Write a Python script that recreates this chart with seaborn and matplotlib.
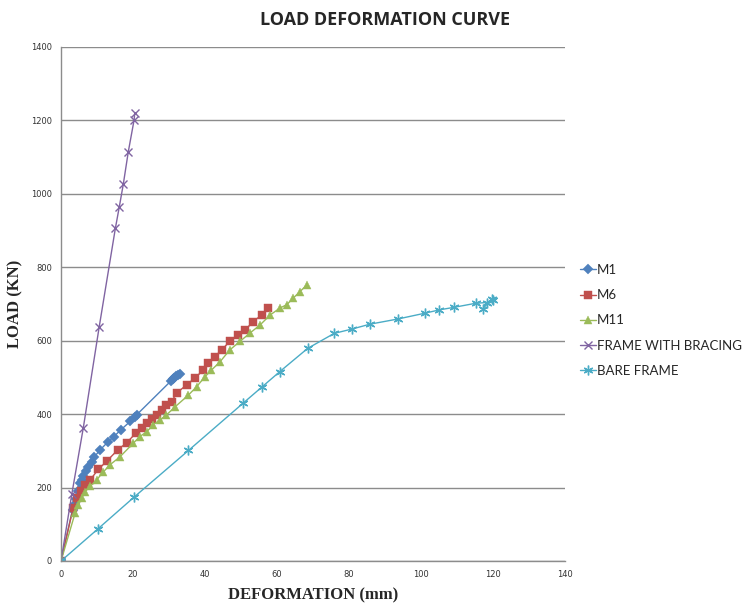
import numpy as np
import pandas as pd
import matplotlib
matplotlib.use("Agg")
import matplotlib.pyplot as plt
import seaborn as sns

# values (deformation mm, load kN)
m1_x = [0, 3.2, 3.8, 4.2, 4.7, 5.3, 5.7, 6.2, 6.9, 7.6, 8.5, 9.3, 10.8, 13.1, 14.7, 16.6, 19.2, 20.6, 21.0,
        30.5, 31.0, 31.5, 32.0, 32.5, 33.0]
m1_y = [0, 140, 155, 168, 190, 212, 221, 232, 246, 257, 271, 284, 302, 325, 339, 357, 380, 393, 398,
        490, 495, 499, 503, 507, 510]

m6_x = [0, 3.4, 4.4, 5.5, 6.7, 8.1, 10.4, 12.7, 15.7, 18.2, 20.8, 22.4, 24.0, 25.2, 26.6, 28.0, 29.3, 30.7,
        32.1, 34.9, 37.2, 39.5, 40.9, 42.8, 44.6, 46.9, 49.3, 51.1, 53.4, 55.7, 57.6]
m6_y = [0, 145, 171, 192, 207, 221, 250, 272, 302, 322, 348, 361, 375, 386, 398, 411, 425, 434,
        457, 480, 498, 520, 539, 557, 575, 598, 616, 629, 652, 670, 689]

m11_x = [0, 3.9, 4.8, 5.7, 6.7, 8.1, 9.9, 11.8, 13.6, 16.4, 20.1, 21.9, 23.8, 25.6, 27.5, 29.3, 31.7,
         35.4, 37.7, 40.0, 41.8, 44.2, 46.9, 49.7, 52.5, 55.3, 58.1, 60.8, 62.7, 64.5, 66.4, 68.3]
m11_y = [0, 130, 153, 171, 189, 203, 221, 243, 262, 284, 321, 339, 352, 371, 384, 398, 420,
         452, 475, 502, 520, 543, 575, 598, 621, 643, 670, 689, 698, 716, 734, 752]

brace_x = [0, 3.0, 6.2, 10.6, 15.1, 16.2, 17.3, 18.7, 20.3, 20.5]
brace_y = [0, 182, 363, 637, 906, 965, 1026, 1115, 1201, 1220]

bare_x = [0, 10.2, 20.3, 35.4, 50.6, 55.7, 60.8, 68.5, 75.9, 80.9, 85.8, 93.5, 101.1, 105.1, 109.2,
          115.2, 118.2, 117.1, 119.6, 120.0]
bare_y = [0, 87, 174, 301, 430, 473, 516, 579, 620, 632, 645, 659, 675, 684, 691,
          702, 704, 686, 713, 710]

series_names = ["M1", "M6", "M11", "FRAME WITH BRACING", "BARE FRAME"]
y_ticks = [0, 200, 400, 600, 800, 1000, 1200, 1400]
x_ticks = [0, 20, 40, 60, 80, 100, 120, 140]

sns.set_style("white")

fig = plt.figure(figsize=(7.54, 6.08), dpi=100)
ax = fig.add_axes([61 / 754, 1 - 561 / 608, (565 - 61) / 754, (561 - 47) / 608])

styles = [
    (m1_x, m1_y, "#4F81BD", "D", 5),
    (m6_x, m6_y, "#C0504D", "s", 6),
    (m11_x, m11_y, "#9BBB59", "^", 6),
    (brace_x, brace_y, "#8064A2", "x", 6),
    (bare_x, bare_y, "#4BACC6", (6, 2, 0), 7),
]

for name, (xs, ys, col, mk, ms) in zip(series_names, styles):
    df = pd.DataFrame({"x": xs, "y": ys})
    sns.lineplot(data=df, x="x", y="y", ax=ax, sort=False, color=col, marker=mk,
                 markersize=ms, markeredgecolor=col, markeredgewidth=1.0 if mk in ("x", (6, 2, 0)) else 0.3,
                 linewidth=1.0, label=name, estimator=None, legend=False)

ax.set_xlim(0, 140)
ax.set_ylim(0, 1400)
ax.set_xticks(x_ticks)
ax.set_yticks(y_ticks)
ax.tick_params(axis="both", labelsize=6, colors="#555555", length=3, width=0.6, direction="out")
for lab in ax.get_xticklabels() + ax.get_yticklabels():
    lab.set_color("#333333")
ax.yaxis.grid(True, color="#8c8c8c", linewidth=1.0)
ax.xaxis.grid(False)
ax.set_axisbelow(True)
for side in ("top", "right"):
    ax.spines[side].set_visible(False)
for side in ("left", "bottom"):
    ax.spines[side].set_color("#8c8c8c")
    ax.spines[side].set_linewidth(1.0)

ax.set_xlabel("DEFORMATION (mm)", fontfamily="Liberation Serif", fontweight="bold", fontsize=12, labelpad=6)
ax.set_ylabel("LOAD (KN)", fontfamily="Liberation Serif", fontweight="bold", fontsize=12, labelpad=2)
ax.yaxis.set_label_coords(-0.075, 0.5)

fig.text(385 / 754, 1 - 20 / 608, "LOAD DEFORMATION CURVE", ha="center", va="center",
         fontfamily="Open Sans", fontweight="bold", fontsize=13)

handles, labels = ax.get_legend_handles_labels()
fig.legend(handles, labels, loc="upper left", bbox_to_anchor=(580 / 754, 1 - 264 / 608), frameon=False,
           prop={"family": "Lato", "size": 9.5}, handlelength=1.2, handletextpad=0.1,
           labelspacing=1.0, borderaxespad=0, borderpad=0)

fig.savefig("out.png", dpi=100)
